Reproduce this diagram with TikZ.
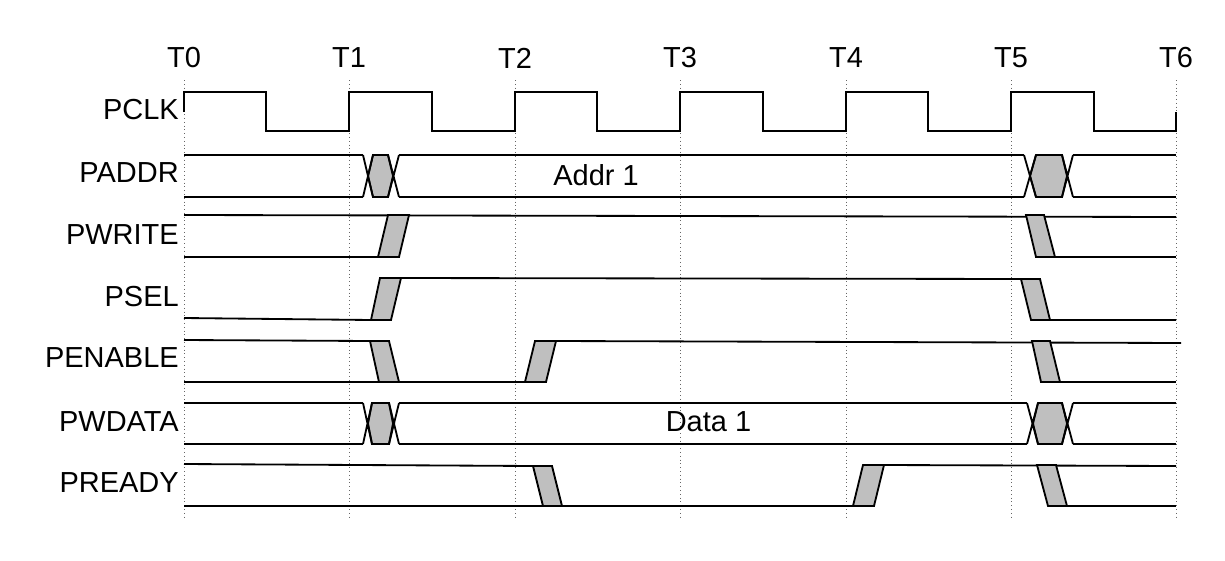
\documentclass[tikz,border=0pt]{standalone}
\usepackage{fontspec}
\setmainfont{Liberation Sans}
\usepackage{tikz}
\usetikzlibrary{positioning,calc}

\begin{document}
\begin{tikzpicture}[
    x=0.025cm, y=-0.025cm,
    sig/.style={line width=1.3pt, line join=miter},
    trans/.style={sig, fill=black!25},
    tline/.style={dotted, line width=0.7pt, black!60},
    signame/.style={font=\fontsize{20.6pt}{24pt}\selectfont, inner sep=0pt, anchor=east},
    tlbl/.style={font=\fontsize{20.6pt}{24pt}\selectfont, inner sep=0pt},
    val/.style={font=\fontsize{20.6pt}{24pt}\selectfont, inner sep=0pt}
]
\useasboundingbox (0,0) rectangle (1225,560);

% --- Time markers T0 ... T6 ---
\foreach \i/\x in {0/184,1/349,2/515,3/680,4/846,5/1011,6/1176} {
  \node[tlbl] (t\i) at (\x,58) {T\i};
  \draw[tline] (\x,80) -- (\x,518);
}

% --- Signal names ---
\node[signame] (pclk)    at (179,110)   {PCLK};
\node[signame] (paddr)   at (179,172.5) {PADDR};
\node[signame] (pwrite)  at (179,235)   {PWRITE};
\node[signame] (psel)    at (179,297)   {PSEL};
\node[signame] (penable) at (179,358)   {PENABLE};
\node[signame] (pwdata)  at (179,422)   {PWDATA};
\node[signame] (pready)  at (179,483)   {PREADY};

% --- PCLK ---
\draw[sig] (184,112) -- (184,92) -- (266,92) -- (266,131) -- (349,131) -- (349,92)
  -- (432,92) -- (432,131) -- (515,131) -- (515,92) -- (597,92) -- (597,131)
  -- (680,131) -- (680,92) -- (763,92) -- (763,131) -- (846,131) -- (846,92)
  -- (928,92) -- (928,131) -- (1011,131) -- (1011,92) -- (1094,92) -- (1094,131)
  -- (1176,131) -- (1176,112);

% --- PADDR ---
\draw[sig] (184,155) -- (363,155) (184,197) -- (363,197);
\draw[trans] (368,176) -- (373,155) -- (388,155) -- (393,176) -- (388,197) -- (373,197) -- cycle;
\draw[sig] (363,155) -- (373,197) (363,197) -- (373,155)
           (388,155) -- (399,197) (388,197) -- (399,155);
\draw[sig] (399,155) -- (1024,155) (399,197) -- (1024,197);
\draw[trans] (1030,176) -- (1036,155) -- (1062,155) -- (1067,176) -- (1062,197) -- (1036,197) -- cycle;
\draw[sig] (1024,155) -- (1036,197) (1024,197) -- (1036,155)
           (1062,155) -- (1073,197) (1062,197) -- (1073,155);
\draw[sig] (1073,155) -- (1176,155) (1073,197) -- (1176,197);
\node[val] (addr) at (596,175) {Addr 1};

% --- PWRITE ---
\draw[sig] (184,215) -- (1176,217);
\draw[sig] (184,257) -- (378,257) (1055,257) -- (1176,257);
\draw[trans] (378,257) -- (399,257) -- (409,215) -- (388,215) -- cycle;
\draw[trans] (1026,215) -- (1044,215) -- (1055,257) -- (1036,257) -- cycle;

% --- PSEL ---
\draw[sig] (184,318) -- (371,320) (401,278) -- (1021,279) (1050,320) -- (1176,320);
\draw[trans] (371,320) -- (391,320) -- (401,278) -- (380,278) -- cycle;
\draw[trans] (1021,279) -- (1040,279) -- (1050,320) -- (1031,320) -- cycle;

% --- PENABLE ---
\draw[sig] (184,340) -- (370,341) (556,341) -- (1181,343);
\draw[sig] (184,382) -- (525,382) (1060,382) -- (1176,382);
\draw[trans] (370,341) -- (389,341) -- (399,382) -- (379,382) -- cycle;
\draw[trans] (525,382) -- (546,382) -- (556,341) -- (535,341) -- cycle;
\draw[trans] (1032,341) -- (1050,341) -- (1060,382) -- (1041,382) -- cycle;

% --- PWDATA ---
\draw[sig] (184,403) -- (363,403) (184,444) -- (363,444);
\draw[trans] (368,423.5) -- (372,403) -- (389,403) -- (393,423.5) -- (389,444) -- (372,444) -- cycle;
\draw[sig] (363,403) -- (372,444) (363,444) -- (372,403)
           (389,403) -- (399,444) (389,444) -- (399,403);
\draw[sig] (399,403) -- (1027,403) (399,444) -- (1027,444);
\draw[trans] (1033,423.5) -- (1038,403) -- (1062,403) -- (1067,423.5) -- (1062,444) -- (1038,444) -- cycle;
\draw[sig] (1027,403) -- (1038,444) (1027,444) -- (1038,403)
           (1062,403) -- (1073,444) (1062,444) -- (1073,403);
\draw[sig] (1073,403) -- (1176,403) (1073,444) -- (1176,444);
\node[val] (data) at (708.5,422) {Data 1};

% --- PREADY ---
\draw[sig] (184,464) -- (533,466) (884,465) -- (1176,466);
\draw[sig] (184,506) -- (853,506) (1067,506) -- (1176,506);
\draw[trans] (533,466) -- (552,466) -- (562,506) -- (543,506) -- cycle;
\draw[trans] (853,506) -- (874,506) -- (884,465) -- (863,465) -- cycle;
\draw[trans] (1037,465) -- (1056,465) -- (1067,506) -- (1048,506) -- cycle;
\end{tikzpicture}
\end{document}
